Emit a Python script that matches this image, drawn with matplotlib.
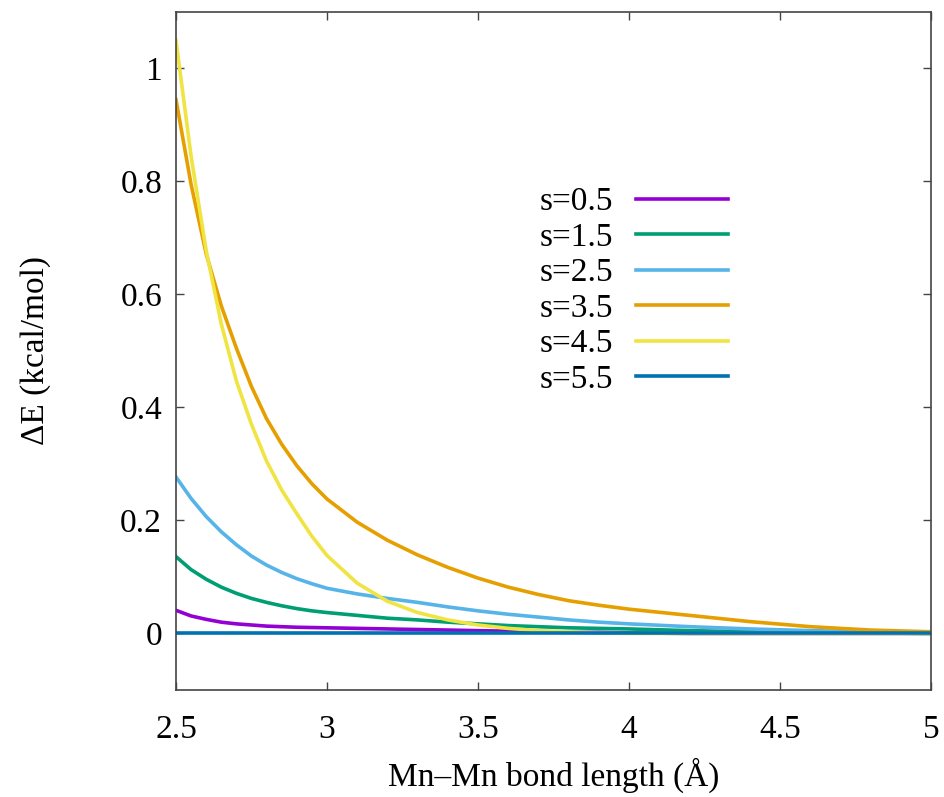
import matplotlib
matplotlib.use('Agg')
import matplotlib.pyplot as plt
from matplotlib.ticker import FormatStrFormatter

# data
bond = [2.5, 2.55, 2.6, 2.65, 2.7, 2.75, 2.8, 2.85, 2.9, 2.95, 3.0, 3.1, 3.2, 3.3,
        3.4, 3.5, 3.6, 3.7, 3.8, 3.9, 4.0, 4.2, 4.4, 4.6, 4.8, 5.0]

s05 = [0.041, 0.031, 0.025, 0.020, 0.017, 0.015, 0.013, 0.012, 0.011, 0.0105, 0.010, 0.009, 0.008, 0.007,
       0.006, 0.005, 0.004, 0.003, 0.002, 0.002, 0.001, 0.0, 0.0, 0.0, 0.0, 0.0]
s15 = [0.136, 0.113, 0.096, 0.082, 0.071, 0.062, 0.055, 0.049, 0.044, 0.040, 0.037, 0.032, 0.027, 0.024,
       0.020, 0.017, 0.014, 0.012, 0.010, 0.009, 0.008, 0.005, 0.003, 0.002, 0.001, 0.0]
s25 = [0.277, 0.239, 0.207, 0.180, 0.157, 0.137, 0.121, 0.108, 0.097, 0.088, 0.080, 0.070, 0.062, 0.055,
       0.047, 0.040, 0.034, 0.029, 0.024, 0.020, 0.017, 0.012, 0.008, 0.005, 0.003, 0.001]
s35 = [0.945, 0.795, 0.672, 0.580, 0.505, 0.437, 0.380, 0.335, 0.297, 0.265, 0.238, 0.197, 0.165, 0.139,
       0.117, 0.098, 0.082, 0.069, 0.058, 0.050, 0.043, 0.032, 0.021, 0.012, 0.006, 0.003]
s45 = [1.050, 0.845, 0.678, 0.548, 0.447, 0.370, 0.305, 0.254, 0.212, 0.172, 0.138, 0.089, 0.057, 0.037,
       0.024, 0.015, 0.009, 0.005, 0.003, 0.001, 0.0, 0.0, 0.0, 0.0, 0.0, 0.0]
s55 = [0.0] * len(bond)

labels = ['s=0.5', 's=1.5', 's=2.5', 's=3.5', 's=4.5', 's=5.5']
colors = ['#9400D3', '#009E73', '#56B4E9', '#E69F00', '#F0E442', '#0072B2']
series = [s05, s15, s25, s35, s45, s55]

plt.rcParams['font.family'] = ['Liberation Serif', 'DejaVu Serif']
FS = 24

fig = plt.figure(figsize=(9.45, 7.97), dpi=100)
ax = fig.add_axes([0.1862, 0.1343, 0.799, 0.8507])

for ys, lab, c in zip(series, labels, colors):
    ax.plot(bond, ys, color=c, lw=2.6, label=lab, solid_joinstyle='round')

ax.set_xlim(2.5, 5)
ax.set_ylim(-0.1, 1.1)
ax.set_xticks([2.5, 3, 3.5, 4, 4.5, 5])
ax.set_yticks([0, 0.2, 0.4, 0.6, 0.8, 1.0])
ax.xaxis.set_major_formatter(FormatStrFormatter('%g'))
ax.yaxis.set_major_formatter(FormatStrFormatter('%g'))
ax.tick_params(direction='in', length=6, width=1, color='#444444', top=True, right=True,
               labelsize=FS)
ax.tick_params(axis='x', pad=18)
ax.tick_params(axis='y', pad=10)
for sp in ax.spines.values():
    sp.set_color('#444444')
    sp.set_linewidth(1.2)

ax.set_xlabel('Mn\u2013Mn bond length (\u00c5)', fontsize=FS, labelpad=9)
ax.set_ylabel('\u0394E (kcal/mol)', fontsize=FS, labelpad=50)

ax.legend(loc='upper right', bbox_to_anchor=(0.731, 0.742), frameon=False, markerfirst=False,
          handlelength=2.75, handletextpad=0.7, labelspacing=0.15, borderpad=0, borderaxespad=0,
          fontsize=FS)

fig.savefig('out.png', dpi=100)
